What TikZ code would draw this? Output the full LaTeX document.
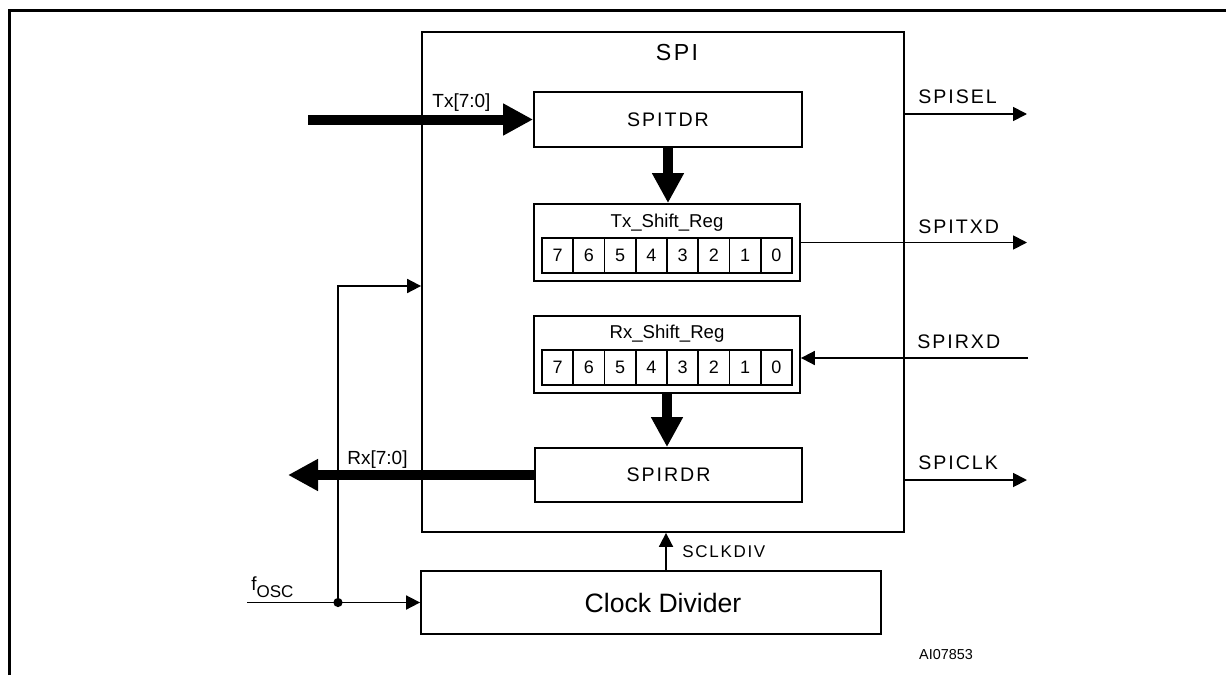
\documentclass[tikz,border=0pt]{standalone}
\usepackage{fontspec}
\setmainfont{Liberation Sans}
\newfontfamily\spaced[LetterSpace=10]{Liberation Sans}
\usepackage{tikz}
\usetikzlibrary{arrows.meta,positioning}

\begin{document}
\begin{tikzpicture}[x=0.5pt, y=-0.5pt,
    blk/.style={draw, line width=0.9pt, inner sep=0pt},
    cell/.style={draw, line width=0.9pt, minimum width=15.625pt, minimum height=17.5pt,
        inner sep=0pt, font=\fontsize{9}{9}\selectfont},
    bus/.style={line width=5pt, -{Triangle[length=15pt,width=15pt]}},
    sig/.style={line width=0.9pt, -{Triangle[length=7pt,width=7pt]}},
    lbl/.style={anchor=west, inner sep=0pt},
    capsfont/.style={font=\spaced\fontsize{9.8}{10}\selectfont}]
    \useasboundingbox (0,0) rectangle (1226,675);

    % frame
    \draw[line width=1.5pt] (9,675) -- (9,10) -- (1226,10);

    % SPI block
    \node[blk, minimum width=241pt, minimum height=250pt] (spi) at (663,282) {};
    \node[font=\spaced\fontsize{11.6}{12}\selectfont] (spititle) at (677,53) {SPI};

    \node[blk, capsfont, minimum width=134pt, minimum height=27.5pt] (spitdr) at (668,119.5) {SPITDR};
    \node[blk, capsfont, minimum width=133.5pt, minimum height=27pt] (spirdr) at (668.5,475) {SPIRDR};

    % shift registers
    \node[blk, minimum width=133pt, minimum height=38.5pt] (txreg) at (667,242.5) {};
    \node[font=\fontsize{9.3}{10}\selectfont] (txtitle) at (667,223) {Tx\_Shift\_Reg};
    \foreach \b [count=\i] in {7,...,0}
        \node[cell] (tx\b) at ({542+31.25*(\i-0.5)},255.5) {\b};

    \node[blk, minimum width=133pt, minimum height=38.5pt] (rxreg) at (667,354.5) {};
    \node[font=\fontsize{9.3}{10}\selectfont] (rxtitle) at (667,334) {Rx\_Shift\_Reg};
    \foreach \b [count=\i] in {7,...,0}
        \node[cell] (rx\b) at ({542+31.25*(\i-0.5)},367.5) {\b};

    % clock divider
    \node[blk, minimum width=230pt, minimum height=31.5pt] (clkdiv) at (651,602.5) {};
    \node[font=\fontsize{13.3}{14}\selectfont] (clktext) at (663,603) {Clock Divider};

    % data buses
    \coordinate (txin) at (308,119.5);
    \coordinate (rxout) at (288,475);
    \draw[bus] (txin) -- (spitdr.west);
    \draw[bus] (spitdr.south) -- (spitdr.south |- txreg.north);
    \draw[bus] (rxreg.south) -- (rxreg.south |- spirdr.north);
    \draw[bus] (spirdr.west) -- (rxout);
    \node[lbl, font=\fontsize{9.5}{10}\selectfont] (txlbl) at (432,103) {Tx[7:0]};
    \node[lbl, font=\fontsize{9.5}{10}\selectfont] (rxlbl) at (347,460) {Rx[7:0]};

    % pins on the right
    \coordinate (selend) at (1027,114);
    \coordinate (txdend) at (1027,243);
    \coordinate (rxdin) at (1028,358);
    \coordinate (clkend) at (1027,480);
    \draw[sig] (spi.east |- selend) -- (selend);
    \draw[sig] (txreg.east) -- (txreg.east -| txdend);
    \draw[sig] (rxdin) -- (rxreg.east |- rxdin);
    \draw[sig] (spi.east |- clkend) -- (clkend);
    \node[lbl, capsfont] (sellbl) at (918,97) {SPISEL};
    \node[lbl, capsfont] (txdlbl) at (918,227) {SPITXD};
    \node[lbl, capsfont] (rxdlbl) at (917,342) {SPIRXD};
    \node[lbl, capsfont] (clklbl) at (918,463) {SPICLK};

    % clock path
    \coordinate (sclk) at (666,550);
    \draw[sig] (clkdiv.north -| sclk) -- (spi.south -| sclk);
    \node[lbl, font=\spaced\fontsize{8.5}{9}\selectfont] (sclklbl) at (682,552) {SCLKDIV};

    \coordinate (oscin) at (247,602.5);
    \coordinate (split) at (338,602.5);
    \coordinate (fb) at (338,286);
    \draw[sig] (oscin) -- (clkdiv.west);
    \draw[sig] (split) -- (fb) -- (spi.west |- fb);
    \fill (split) circle (2.3pt);
    \node[anchor=base west, inner sep=0pt, font=\fontsize{9.5}{10}\selectfont] (osclbl) at (251,590)
        {f\raisebox{-3.5pt}{\fontsize{8.5}{9}\selectfont OSC}};

    \node[font=\fontsize{7.2}{8}\selectfont] (figid) at (946,655) {AI07853};
\end{tikzpicture}
\end{document}
